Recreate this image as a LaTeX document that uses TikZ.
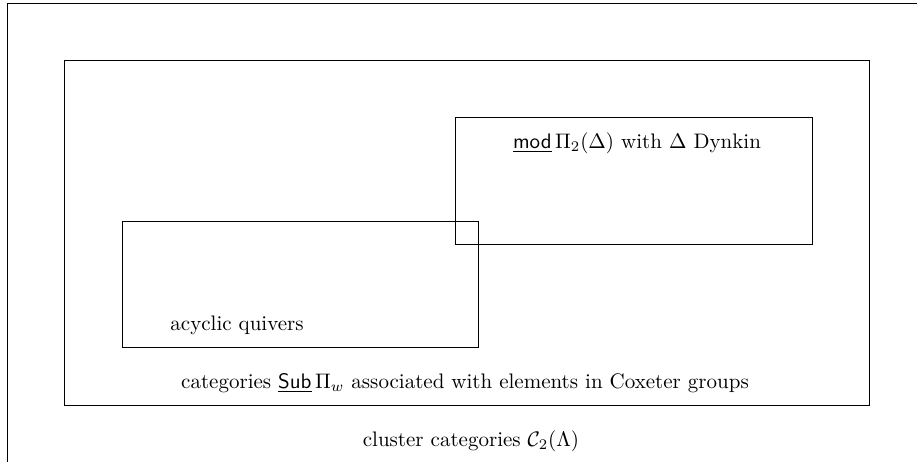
\documentclass[tikz,border=0pt]{standalone}
\usepackage{amsmath}
\usepackage{tikz}
\usetikzlibrary{positioning}
\tikzset{
  region/.style={draw, line width=0.4pt},
  label/.style={inner sep=0pt, anchor=base},
}

\begin{document}
\begin{tikzpicture}[x=0.476pt, y=-0.476pt]
    \clip (0,0) rectangle (917,461);
    \draw[region] (7,3) rectangle (950,500);
    \draw[region] (64,60) rectangle (869,405);
    \draw[region] (122,221) rectangle (478,347);
    \draw[region] (455,117) rectangle (812,244);
    \node[label] (modtext) at (637,148) {$\underline{\mathsf{mod}}\,\Pi_2(\Delta)$ with $\Delta$ Dynkin};
    \node[label, anchor=base west] (quivers) at (170,330) {acyclic quivers};
    \node[label] (coxeter) at (465,388) {categories $\underline{\mathsf{Sub}}\,\Pi_w$ associated with elements in Coxeter groups};
    \node[label] (cluster) at (471,446) {cluster categories $\mathcal{C}_2(\Lambda)$};
  \end{tikzpicture}
\end{document}
